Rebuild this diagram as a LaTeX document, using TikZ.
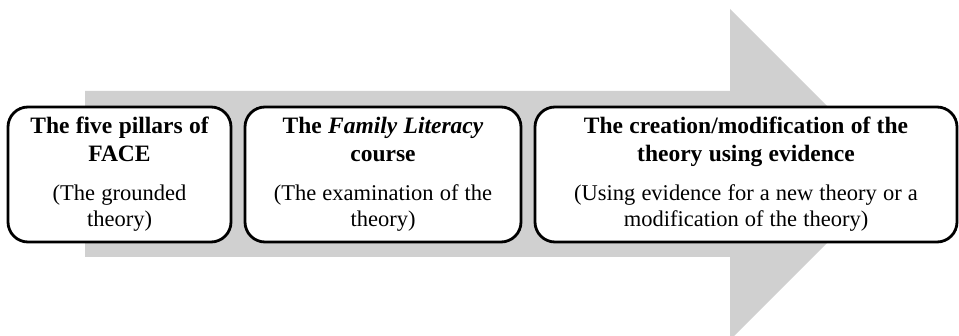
\documentclass[tikz,border=0pt]{standalone}
\usepackage{fontspec}
\setmainfont{Liberation Serif}
\definecolor{arrowgray}{RGB}{208,208,208}
\newcommand{\titlefont}{\fontsize{23.5}{28}\selectfont\bfseries\spaceskip=0.27em\relax}
\newcommand{\bodyfont}{\fontsize{22.5}{26}\selectfont\spaceskip=0.27em\relax}
\tikzset{
  stagebox/.style={draw=black, line width=2.8pt, rounded corners=20pt, fill=white,
    align=center, inner sep=0pt, minimum height=135pt},
}
\begin{document}
\begin{tikzpicture}[x=1pt,y=-1pt]
\clip (0,0) rectangle (959,336);
\fill[arrowgray] (85,91) -- (730,91) -- (730,9) -- (895.5,174.5) -- (730,340) -- (730,257) -- (85,257) -- cycle;
\node[stagebox, minimum width=223pt, text width=215pt] (b1) at (119.5,174.5)
  {{\titlefont The five pillars of\\FACE\par}\vspace{13pt}{\bodyfont (The grounded\\theory)\par}};
\node[stagebox, minimum width=276pt, text width=268pt] (b2) at (383,174.5)
  {{\titlefont The \textit{Family Literacy}\\course\par}\vspace{13pt}{\bodyfont (The examination of the\\theory)\par}};
\node[stagebox, minimum width=422pt, text width=414pt] (b3) at (746,174.5)
  {{\titlefont The creation/modification of the\\theory using evidence\par}\vspace{13pt}{\bodyfont (Using evidence for a new theory or a\\modification of the theory)\par}};
\end{tikzpicture}
\end{document}
